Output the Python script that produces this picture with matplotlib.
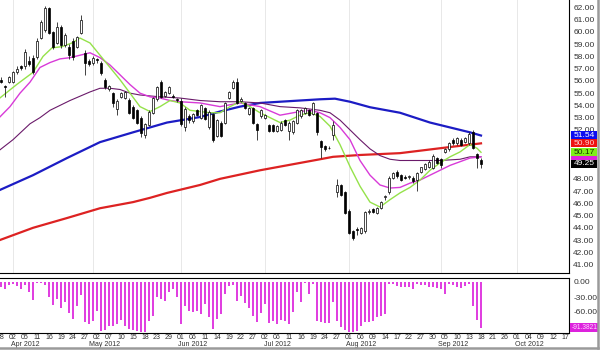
import matplotlib
matplotlib.use('Agg')
import matplotlib.pyplot as plt
import matplotlib.transforms as mtransforms
from matplotlib.patches import Rectangle
from matplotlib.lines import Line2D
import numpy as np

plt.rcParams['font.family'] = ['Liberation Sans', 'DejaVu Sans']

# daily candles, day 0 = 28 Mar 2012 (trading days)
opens = [56.10, 55.60, 55.95, 55.90, 56.75, 57.20, 57.20, 57.60, 57.90, 57.95,
         59.50, 60.20, 61.95, 60.00, 59.10, 60.40, 58.90, 58.80, 59.30, 58.80,
         59.90, 58.30, 57.60, 57.50, 57.80, 57.50, 56.10, 55.35, 55.00, 53.70,
         54.70, 54.60, 54.45, 53.90, 53.60, 53.00, 51.60, 52.40, 53.40, 54.50,
         55.90, 54.80, 55.00, 54.80, 54.55, 54.40, 52.20, 53.10, 52.70, 53.60,
         53.00, 53.80, 52.20, 53.30, 51.50, 52.60, 52.60, 54.60, 55.40, 55.90,
         54.40, 54.20, 53.30, 53.80, 52.50, 53.10, 53.00, 52.40, 52.40, 51.90,
         52.00, 52.80, 51.90, 51.80, 52.60, 53.10, 53.40, 53.60, 53.30, 53.40,
         51.10, 50.70, 50.55, 51.60, 46.90, 47.50, 46.90, 45.40, 43.70, 43.90,
         43.60, 43.70, 45.30, 45.50, 45.20, 45.60, 46.50, 46.90, 48.10, 48.60,
         48.30, 48.15, 48.15, 48.10, 47.90, 48.60, 48.80, 49.00, 48.90, 49.70,
         49.60, 50.20, 50.40, 51.20, 50.90, 51.20, 51.00, 50.90, 51.80, 50.00,
         49.50]
highs = [56.30, 55.70, 56.40, 56.80, 57.20, 57.30, 58.60, 58.00, 58.10, 59.50,
         61.00, 62.10, 62.05, 60.10, 60.80, 60.60, 59.90, 59.00, 59.50, 59.70,
         61.40, 58.50, 57.80, 58.00, 57.90, 57.60, 56.20, 55.70, 55.10, 54.50,
         55.10, 55.20, 54.60, 54.00, 53.70, 53.10, 52.60, 53.60, 54.70, 55.60,
         56.10, 55.20, 55.60, 54.90, 54.60, 54.60, 53.90, 53.30, 53.40, 53.70,
         54.10, 53.90, 53.60, 53.40, 52.90, 52.70, 54.30, 55.20, 56.10, 56.20,
         54.70, 54.30, 53.90, 53.90, 52.60, 53.70, 53.30, 52.50, 52.50, 52.40,
         52.70, 52.90, 52.70, 52.80, 53.70, 53.70, 53.90, 53.70, 54.30, 53.50,
         51.20, 50.80, 50.70, 52.70, 48.00, 47.60, 47.00, 45.50, 43.80, 44.10,
         44.10, 45.40, 45.50, 45.60, 45.70, 46.20, 46.70, 48.20, 48.60, 48.70,
         48.40, 48.30, 48.30, 48.20, 48.60, 49.00, 49.30, 49.50, 50.00, 49.80,
         49.70, 50.50, 51.00, 51.30, 51.40, 51.30, 51.40, 51.80, 52.00, 50.10,
         49.70]
lows = [55.80, 54.70, 55.80, 55.80, 56.60, 56.90, 57.00, 57.20, 56.60, 57.80,
        59.40, 60.00, 59.80, 58.60, 59.00, 58.70, 58.80, 57.80, 57.70, 58.70,
        59.80, 56.50, 57.20, 57.30, 57.50, 56.50, 55.30, 55.20, 53.90, 53.20,
        54.60, 54.50, 53.30, 52.90, 52.50, 51.40, 51.30, 52.30, 53.30, 54.40,
        54.60, 54.70, 54.90, 54.60, 54.30, 52.30, 51.90, 52.60, 52.60, 53.10,
        52.90, 52.80, 52.10, 51.00, 51.40, 51.40, 52.50, 54.50, 55.30, 54.10,
        54.30, 53.70, 53.20, 52.50, 51.20, 53.00, 52.90, 51.80, 51.80, 51.80,
        51.90, 52.30, 51.20, 51.70, 52.50, 53.00, 53.30, 53.10, 53.20, 51.60,
        49.70, 50.30, 50.40, 51.20, 46.50, 46.60, 45.10, 43.50, 43.00, 43.40,
        43.50, 43.60, 45.10, 45.20, 45.10, 45.50, 46.30, 46.80, 48.00, 48.10,
        47.80, 48.00, 48.00, 47.70, 47.00, 48.50, 48.70, 48.90, 48.80, 49.20,
        48.90, 50.10, 50.30, 50.80, 50.80, 50.70, 50.90, 50.80, 50.40, 48.90,
        48.90]
closes = [55.95, 55.50, 56.30, 56.70, 57.00, 57.05, 58.35, 57.40, 56.70, 59.30,
          60.80, 61.95, 59.90, 58.80, 60.40, 58.90, 59.75, 58.10, 57.95, 59.60,
          61.00, 57.50, 57.40, 57.90, 57.70, 56.65, 55.50, 55.55, 54.20, 54.40,
          55.00, 55.10, 53.40, 53.00, 52.60, 51.75, 52.50, 53.50, 54.60, 55.50,
          54.70, 55.10, 55.50, 54.70, 54.45, 52.50, 53.70, 52.80, 53.30, 53.20,
          54.00, 52.90, 53.50, 51.20, 52.80, 51.50, 54.20, 55.10, 55.90, 54.20,
          54.50, 53.80, 53.80, 52.60, 52.00, 53.60, 53.20, 51.90, 51.90, 52.30,
          52.60, 52.40, 52.60, 52.70, 53.60, 53.60, 53.80, 53.20, 54.20, 51.80,
          50.60, 50.40, 50.50, 52.40, 47.50, 46.70, 45.20, 43.60, 43.20, 43.80,
          44.00, 45.30, 45.35, 45.30, 45.60, 46.10, 46.55, 48.10, 48.50, 48.20,
          47.90, 48.10, 48.20, 47.80, 48.50, 48.95, 49.20, 49.40, 49.90, 49.30,
          49.10, 50.40, 50.90, 50.90, 51.30, 50.80, 51.30, 51.70, 50.50, 49.70,
          49.25]

# lower panel oscillator
osc = [-10, -13, -5, -3, -7, -13, -5, -20, -35, -1,
       -1, -5, -30, -45, -33, -51, -40, -62, -73, -47,
       -25, -80, -83, -77, -57, -97, -95, -87, -87, -83,
       -75, -87, -93, -95, -98, -99, -99, -77, -67, -30,
       -33, -37, -20, -13, -30, -83, -47, -57, -60, -57,
       -63, -43, -70, -93, -73, -63, -23, -7, -5, -38,
       -27, -42, -51, -67, -80, -62, -43, -82, -77, -83,
       -75, -77, -83, -60, -20, -40, -2, -23, -3, -77,
       -80, -81, -82, -40, -77, -90, -95, -100, -100, -97,
       -87, -80, -80, -77, -70, -67, -63, -3, -3, -7,
       -9, -9, -9, -13, -3, -5, -5, -9, -9, -11,
       -13, -23, -3, -5, -9, -11, -7, -3, -47, -75,
       -91.3821]

# moving averages at (day, value)
green_x = [-0.3, 3.9, 8, 10.5, 12.75, 15.25, 17.75, 19.75, 22.25, 24.75, 27.25, 29.75,
           32.25, 34.75, 37.25, 39.75, 42.25, 44.75, 47.25, 49.75, 52.25, 54.75, 57.25,
           59.75, 62.25, 64.75, 67.25, 69.75, 72.25, 74.75, 77.25, 79.75, 82.25, 84.75,
           87.25, 89.75, 92.25, 94.75, 97.25, 99.75, 102.25, 104.75, 107.25, 109.75,
           112.25, 114.75, 117.25, 119, 120]
green_y = [54.6, 55.7, 56.7, 58.0, 58.7, 58.8, 59.1, 59.5, 59.1, 58.1, 57.1, 56.1,
           55.0, 53.9, 53.5, 53.9, 54.4, 54.2, 53.6, 53.5, 53.4, 53.4, 53.9,
           54.3, 53.9, 53.4, 53.0, 52.6, 52.8, 53.2, 53.4, 53.1, 52.3, 50.8,
           49.0, 47.4, 46.1, 45.7, 46.3, 46.85, 47.3, 47.9, 48.7, 49.3,
           49.8, 50.2, 50.8, 50.5, 50.17]
magenta_x = [-0.3, 2.25, 4.75, 7.25, 9.75, 12.25, 14.75, 17.25, 19.75, 22.25, 24.75,
             27.25, 29.75, 32.25, 34.75, 37.25, 39.75, 42.25, 44.75, 49.75, 54.75,
             59.75, 64.75, 69.75, 74.75, 77.25, 79.75, 82.25, 84.75, 87.25, 89.75,
             92.25, 94.75, 97.25, 99.75, 102.25, 104.75, 107.25, 109.75, 112.25,
             114.75, 117.25, 120]
magenta_y = [53.05, 53.9, 55.0, 55.9, 57.1, 57.5, 57.8, 57.9, 58.1, 58.3, 57.9,
             57.3, 56.5, 55.7, 55.0, 54.7, 54.6, 54.4, 54.3, 54.2, 53.9,
             54.2, 53.9, 53.2, 53.5, 53.6, 53.4, 53.0, 52.2, 51.2, 49.5,
             48.3, 47.5, 47.25, 47.3, 47.65, 47.9, 48.3, 48.7, 49.1,
             49.4, 49.7, 49.8]
purple_x = [-0.3, 3, 7.25, 9.75, 12.25, 17.25, 22.25, 24.75, 27.25, 29.75, 32.25,
            34.75, 39.75, 44.75, 49.75, 54.75, 59.75, 64.75, 69.75, 74.75, 79.75,
            82.25, 84.75, 87.25, 89.75, 92.25, 94.75, 97.25, 99.75, 104.75, 109.75,
            114.75, 117.25, 120]
purple_y = [50.36, 51.2, 52.5, 53.0, 53.6, 54.4, 55.1, 55.4, 55.4, 55.3, 55.0,
            54.85, 54.7, 54.6, 54.4, 54.3, 54.3, 54.2, 53.9, 53.8, 53.6,
            53.4, 52.8, 52.0, 51.2, 50.45, 49.9, 49.6, 49.5, 49.5, 49.5,
            49.6, 49.8, 49.8]
blue_x = [-0.3, 8, 16.5, 24.75, 33, 37.25, 41.5, 49.75, 54.75, 59.75, 64.75, 69.75,
          74.75, 79.75, 83.5, 87.25, 92.25, 99.75, 107.25, 112.25, 117.25, 120]
blue_y = [47.09, 48.3, 49.7, 51.0, 51.8, 52.2, 52.6, 53.05, 53.5, 53.9, 54.2, 54.3,
          54.4, 54.5, 54.55, 54.3, 53.85, 53.4, 52.6, 52.2, 51.8, 51.54]
red_x = [-0.3, 8, 16.5, 24.75, 33, 37.25, 41.5, 49.75, 54.75, 64.75, 74.75, 79.75,
         83, 89.75, 99.75, 112.25, 120]
red_y = [43.0, 44.0, 44.8, 45.6, 46.1, 46.45, 46.85, 47.5, 48.0, 48.7, 49.3, 49.6,
         49.8, 49.95, 50.1, 50.6, 50.9]

tick_days = ['28', '02', '05', '11', '16', '19', '24', '27', '02', '07', '10', '15',
             '18', '23', '29', '01', '06', '11', '14', '19', '22', '27', '02', '06',
             '11', '16', '19', '24', '27', '01', '06', '09', '14', '17', '22', '27',
             '30', '05', '10', '13', '18', '21', '26', '01', '04', '09', '12', '17']
month_names = ['Apr 2012', 'May 2012', 'Jun 2012', 'Jul 2012', 'Aug 2012', 'Sep 2012', 'Oct 2012']
month_start = [3, 23, 45, 66, 87, 110, 129]

# price axis labels (49-51 sit under the value boxes)
price_ticks = [41, 42, 43, 44, 45, 46, 47, 48, 52, 53, 54, 55, 56, 57, 58, 59, 60, 61, 62]

# last-value boxes on the price axis: value, box colour, text colour ('' = hidden)
last_vals = [51.54, 50.90, 49.80, 50.17, 49.25]
last_box = ['#0c0cf0', '#ee1111', '#dd22dd', '#7fee1a', '#000000']
last_txt = ['white', '#ffd0d0', '', '#113300', 'white']

green_c, magenta_c, purple_c = '#95e24a', '#d83ad8', '#6a1a6a'
blue_c, red_c = '#1c1cc4', '#dd2222'

W, H = 600, 351
fig = plt.figure(figsize=(6, 3.51), dpi=100)
ax = fig.add_axes([0, 1 - 273 / H, 569 / W, 273 / H])
ax2 = fig.add_axes([0, 1 - 333 / H, 569 / W, (333 - 277.5) / H])

idx = np.arange(len(closes))
o, hi, lo, c = map(np.array, (opens, highs, lows, closes))

# month grid
ax.vlines(month_start, 40, 63, color='#e4e4e4', lw=0.6, zorder=0)

# moving averages
ax.plot(red_x, red_y, color=red_c, lw=1.6, zorder=2)
ax.plot(blue_x, blue_y, color=blue_c, lw=1.6, zorder=2)
ax.plot(purple_x, purple_y, color=purple_c, lw=0.8, zorder=2)
ax.plot(magenta_x, magenta_y, color=magenta_c, lw=1.0, zorder=2)
ax.plot(green_x, green_y, color=green_c, lw=1.0, zorder=2)

# candles
ax.vlines(idx, lo, hi, color='#222222', lw=0.6, zorder=3)
up = c >= o
bot = np.minimum(o, c)
ht = np.maximum(np.abs(c - o), 0.06)
ax.bar(idx[up], ht[up], bottom=bot[up], width=0.62, facecolor='white',
       edgecolor='black', linewidth=0.5, zorder=4)
ax.bar(idx[~up], ht[~up], bottom=bot[~up], width=0.62, facecolor='black',
       edgecolor='black', linewidth=0.5, zorder=4)

ax.set_xlim(-0.25, 142)
ax.set_ylim(40.31, 62.61)
ax.set_xticks([])
ax.yaxis.tick_right()
ax.set_yticks(price_ticks)
ax.set_yticklabels(['%.2f' % v for v in price_ticks])
ax.tick_params(axis='y', length=0, pad=3, labelsize=6, labelcolor='#333333')
for s in ('top', 'left'):
    ax.spines[s].set_visible(False)
ax.spines['right'].set_linewidth(0.8)
ax.spines['bottom'].set_linewidth(0.8)

tr = mtransforms.blended_transform_factory(ax.transAxes, ax.transData)
for k, (v, fc, tc) in enumerate(zip(last_vals, last_box, last_txt)):
    z = 10 + k
    ax.add_patch(Rectangle((1.003, v - 0.33), 0.046, 0.66, transform=tr,
                           facecolor=fc, edgecolor='none', clip_on=False, zorder=z))
    if tc:
        ax.text(1.008, v, '%.2f' % v, transform=tr, ha='left', va='center',
                fontsize=6, color=tc, zorder=z + 0.5, clip_on=False)

# lower panel
ax2.bar(idx, osc, width=0.5, color='#e040e0', zorder=2)
ax2.set_xlim(-0.25, 142)
ax2.set_ylim(-102, 9)
ax2.yaxis.tick_right()
ax2.set_yticks([0, -30, -60])
ax2.set_yticklabels(['0.00', '-30.00', '-60.00'])
ax2.tick_params(axis='y', length=0, pad=3, labelsize=6, labelcolor='#333333')
ax2.set_xticks(np.arange(0, 142, 3))
ax2.set_xticklabels(tick_days)
ax2.tick_params(axis='x', length=0, pad=1.0, labelsize=5, labelcolor='#333333')
ax2.spines['left'].set_visible(False)
for s in ('top', 'right', 'bottom'):
    ax2.spines[s].set_linewidth(0.8)
for m, name in zip(month_start, month_names):
    ax2.text(m + 3, -0.205, name, transform=ax2.get_xaxis_transform(), ha='center',
             va='center', fontsize=5, color='#333333')

tr2 = mtransforms.blended_transform_factory(ax2.transAxes, ax2.transData)
ax2.add_patch(Rectangle((1.002, osc[-1] - 9), 0.049, 18, transform=tr2,
                        facecolor='#dd22dd', edgecolor='none', clip_on=False, zorder=10))
ax2.text(1.004, osc[-1], '%.4f' % osc[-1], transform=tr2, ha='left', va='center',
         fontsize=4.8, color='#ffd8ff', zorder=11, clip_on=False)

# outer frame shadow
fig.add_artist(Line2D([597.5 / W, 597.5 / W], [1, 1 - 348 / H], color='#9a9a9a', lw=1.8))
fig.add_artist(Line2D([0, 598 / W], [1 - 348 / H, 1 - 348 / H], color='#9a9a9a', lw=1.8))

fig.savefig('out.png', dpi=100)
